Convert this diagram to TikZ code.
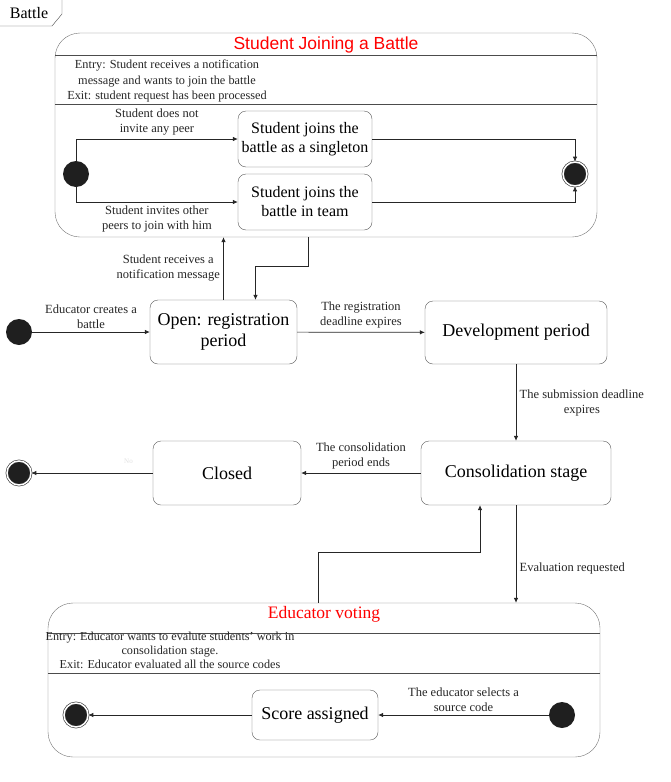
\documentclass[tikz,border=0pt]{standalone}
\usepackage{fontspec}
\setmainfont{Liberation Serif}
\newfontfamily\titlesans{Liberation Sans}
\usetikzlibrary{arrows.meta, positioning, calc}

\begin{document}
\begin{tikzpicture}[x=1pt, y=-1pt,
    arr/.style={-{Latex[length=5pt, width=4.5pt]}, black!85, line width=0.7pt},
    state/.style={draw=black!65, rounded corners=8pt, align=center, inner sep=2pt, font=\fontsize{18}{21}\selectfont},
    substate/.style={state, font=\fontsize{16}{19}\selectfont},
    superstate/.style={draw=black!55, rounded corners=25pt, inner sep=0pt},
    initial/.style={circle, fill=black!88, minimum size=26pt, inner sep=0pt},
    final/.style={circle, fill=black!88, draw=black!80, double=white, double distance=1.5pt, line width=0.6pt, minimum size=24pt, inner sep=0pt},
    lbl/.style={font=\fontsize{12.5}{15}\selectfont, align=center, text=black!85}]
    \useasboundingbox (0,0) rectangle (671,782);

    % Frame tab
    \draw[black!70] (0,26) -- (52,26) -- (62,14) -- (62,0);
    \node[font=\fontsize{16}{19}\selectfont] (tab) at (29,13) {Battle};

    % Student joining a battle
    \node[superstate, minimum width=542pt, minimum height=204pt] (join) at (326,135) {};
    \node[text=red, font=\titlesans\fontsize{17.5}{20}\selectfont] (jointitle) at (326,45) {Student Joining a Battle};
    \draw[black!70] ([yshift=-22pt]join.north west) -- ([yshift=-22pt]join.north east);
    \draw[black!70] ([yshift=-71pt]join.north west) -- ([yshift=-71pt]join.north east);
    \node[lbl, font=\fontsize{12.3}{15.5}\selectfont] (joinentry) at (167,81) {Entry: Student receives a notification\\message and wants to join the battle\\Exit: student request has been processed};

    \node[initial] (jinit) at (76,174) {};
    \node[substate, minimum width=134pt, minimum height=56pt] (single) at (305,139) {Student joins the\\battle as a singleton};
    \node[substate, minimum width=134pt, minimum height=56pt] (team) at (305,202) {Student joins the\\battle in team};
    \node[final] (jend) at (575,174) {};

    \draw[arr] (jinit.north) |- (single.west) node[pos=0.75, above, lbl] {Student does not\\invite any peer};
    \draw[arr] (jinit.south) |- (team.west) node[pos=0.75, below, lbl] {Student invites other\\peers to join with him};
    \draw[arr] (single.east) -| (jend.north);
    \draw[arr] (team.east) -| (jend.south);

    % Main states
    \node[initial] (start) at (19,332) {};
    \node[state, minimum width=147pt, minimum height=64pt] (open) at (223.5,332) {Open: registration\\period};
    \node[state, minimum width=182pt, minimum height=63pt] (dev) at (516,332.5) {Development period};
    \node[state, minimum width=190pt, minimum height=64pt] (cons) at (516,473) {Consolidation stage};
    \node[state, minimum width=148pt, minimum height=64pt] (closed) at (227,473) {Closed};
    \node[final] (end) at (19,473) {};

    \draw[arr] (start) -- (open) node[midway, above, lbl] {Educator creates a\\battle};
    \draw[arr] (open.north) -- (open.north |- join.south) node[midway, left, lbl] {Student receives a\\notification message};
    \draw[arr] ([xshift=-18pt]join.south) -- ++(0,29) -| ([xshift=32pt]open.north);
    \draw[arr] (open) -- (dev) node[midway, above, lbl] {The registration\\deadline expires};
    \draw[arr] (dev) -- (cons) node[midway, right, lbl] {The submission deadline\\expires};
    \draw[arr] (cons) -- (closed) node[midway, above, lbl] {The consolidation\\period ends};
    \draw[arr] (closed) -- (end) node[pos=0.2, above=6pt, font=\fontsize{7}{8}\selectfont, text=black!12] {No};

    % Educator voting
    \node[superstate, minimum width=552pt, minimum height=154pt] (vote) at (324,680) {};
    \node[text=red, font=\fontsize{17.5}{20}\selectfont] (votetitle) at (324,614) {Educator voting};
    \draw[black!70] ([yshift=-30pt]vote.north west) -- ([yshift=-30pt]vote.north east);
    \draw[black!70] ([yshift=-70pt]vote.north west) -- ([yshift=-70pt]vote.north east);
    \node[lbl, font=\fontsize{12.2}{14}\selectfont] (voteentry) at (170,650) {Entry: Educator wants to evalute students' work in\\consolidation stage.\\Exit: Educator evaluated all the source codes};

    \node[initial] (vinit) at (562,715) {};
    \node[substate, font=\fontsize{18}{21}\selectfont, minimum width=126pt, minimum height=50pt] (score) at (315,715) {Score assigned};
    \node[final] (vend) at (76,715) {};

    \draw[arr] (vinit) -- (score) node[midway, above, lbl] {The educator selects a\\source code};
    \draw[arr] (score) -- (vend);

    \draw[arr] (cons.south) -- (cons.south |- vote.north) node[pos=0.65, right, lbl] {Evaluation requested};
    \draw[arr] ([xshift=-6pt]vote.north) -- ++(0,-50) -| ([xshift=-36pt]cons.south);

\end{tikzpicture}
\end{document}
